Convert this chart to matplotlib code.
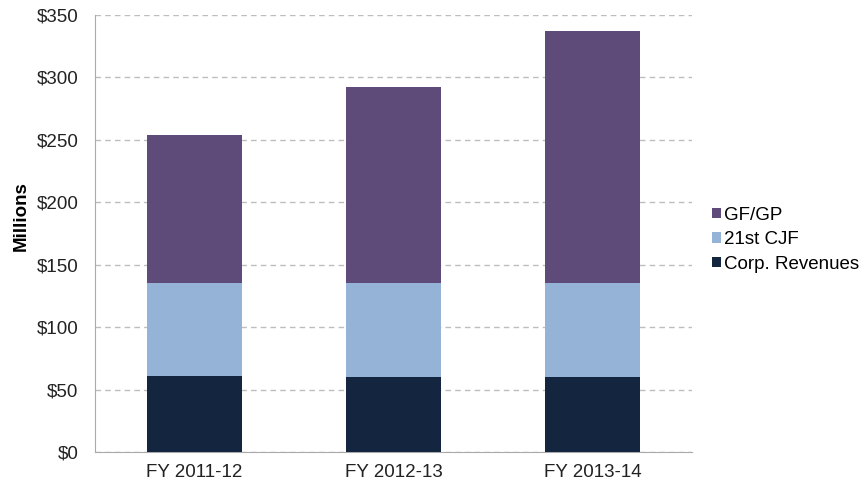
import matplotlib.pyplot as plt
import numpy as np

plt.rcParams['font.family'] = ['Liberation Sans', 'DejaVu Sans']

years = ['FY 2011-12', 'FY 2012-13', 'FY 2013-14']
corp_rev = [60.6, 59.8, 59.8]
cjf = [75.0, 75.3, 75.3]
gfgp = [118.4, 157.2, 202.1]

x = np.arange(len(years))
fig = plt.figure(figsize=(8.65, 4.86), dpi=100)
ax = fig.add_axes([0.11, 0.07, 0.69, 0.899])

w = 0.48
ax.bar(x, corp_rev, w, color='#13253f', label='Corp. Revenues', zorder=3)
ax.bar(x, cjf, w, bottom=corp_rev, color='#95b3d7', label='21st CJF', zorder=3)
bottom2 = np.array(corp_rev) + np.array(cjf)
ax.bar(x, gfgp, w, bottom=bottom2, color='#5f4b7a', label='GF/GP', zorder=3)

ax.set_xlim(-0.5, 2.5)
ax.set_ylim(0, 350)
ax.set_yticks(range(0, 351, 50))
ax.set_yticklabels([f'${v}' for v in range(0, 351, 50)])
ax.set_xticks(x)
ax.set_xticklabels(years)
ax.tick_params(length=0, labelsize=13.5, colors='#222222')
ax.tick_params(axis='y', pad=12)
ax.tick_params(axis='x', pad=9)
ax.set_ylabel('Millions', fontsize=13.5, fontweight='bold')
ax.yaxis.set_label_coords(-0.109, 0.54)

ax.yaxis.grid(True, linestyle=(0, (4, 3)), color='#bdbdbd', linewidth=1, zorder=0)
for s in ['top', 'right']:
    ax.spines[s].set_visible(False)
for s in ['left', 'bottom']:
    ax.spines[s].set_color('#aaaaaa')

h, l = ax.get_legend_handles_labels()
ax.legend(h[::-1], l[::-1], loc='center left', bbox_to_anchor=(1.033, 0.486),
          frameon=False, fontsize=13.5, handlelength=0.5, handleheight=0.5,
          handletextpad=0.15, labelspacing=0.4, borderaxespad=0, borderpad=0)

fig.savefig('out.png', dpi=100)
